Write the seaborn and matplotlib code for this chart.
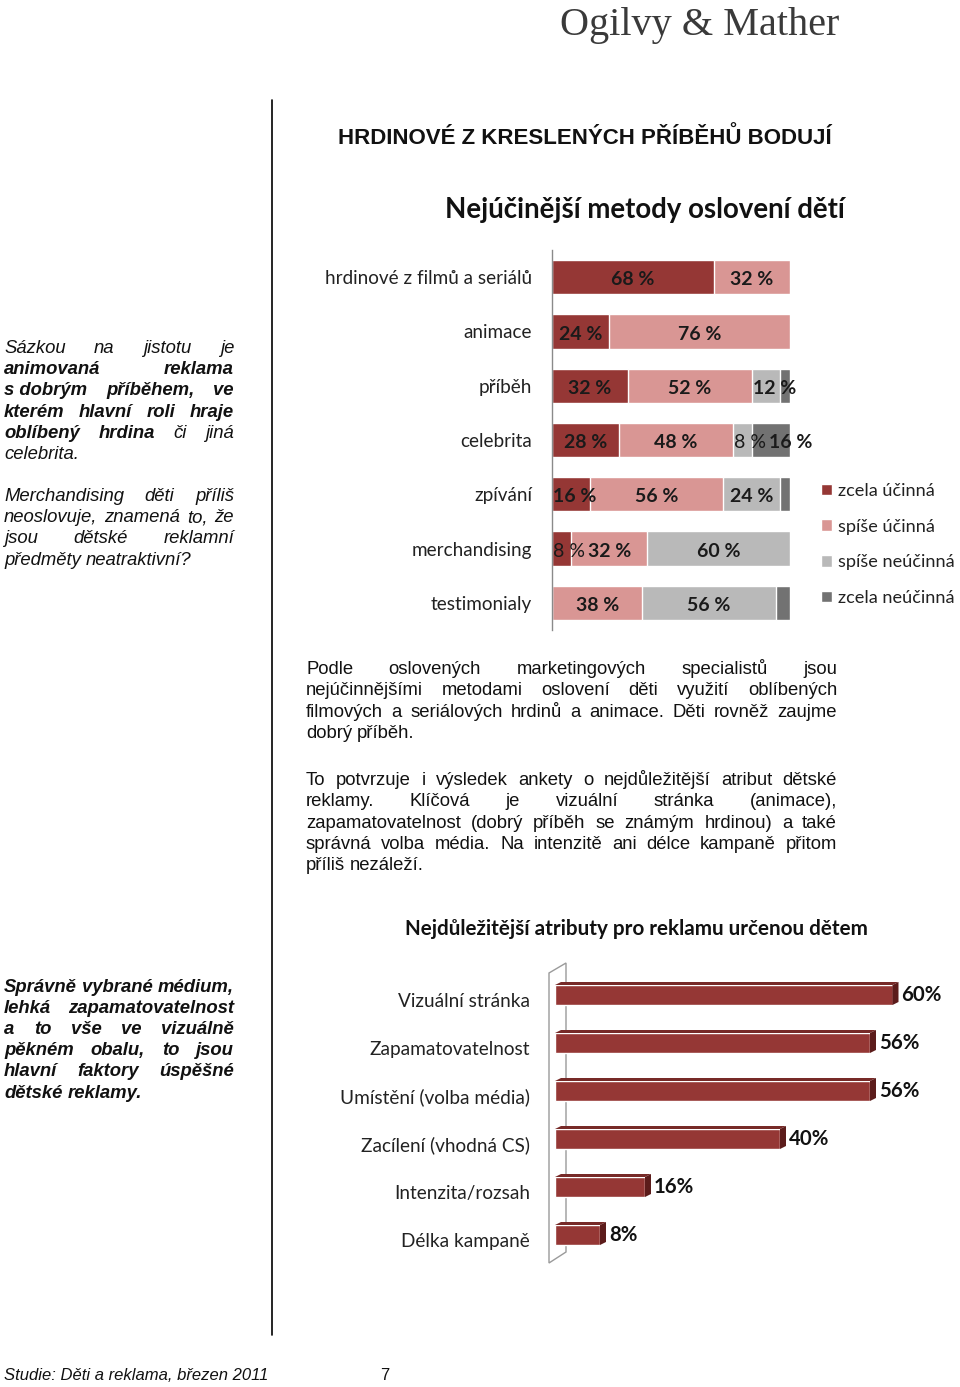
import numpy as np
import pandas as pd
import seaborn as sns
import matplotlib.pyplot as plt
from matplotlib.patches import Polygon
from matplotlib.lines import Line2D
from matplotlib.transforms import ScaledTranslation

# Data: most effective ways to reach children
methods = ['hrdinové z filmů a seriálů', 'animace', 'příběh', 'celebrita',
           'zpívání', 'merchandising', 'testimonialy']
zcela_ucinna = [68, 24, 32, 28, 16, 8, 0]
spise_ucinna = [32, 76, 52, 48, 56, 32, 38]
spise_neucinna = [0, 0, 12, 8, 24, 60, 56]
zcela_neucinna = [0, 0, 4, 16, 4, 0, 6]
answer_names = ['zcela účinná', 'spíše účinná', 'spíše neúčinná', 'zcela neúčinná']
answer_colors = ['#953735', '#d99694', '#b9b9b9', '#727272']

# Data: most important attributes of ads for children
attributes = ['Vizuální stránka', 'Zapamatovatelnost', 'Umístění (volba média)',
              'Zacílení (vhodná CS)', 'Intenzita/rozsah', 'Délka kampaně']
attribute_share = [60, 56, 56, 40, 16, 8]

sns.set_style('white')
plt.rcParams['font.family'] = ['Lato', 'DejaVu Sans']

W, H = 960, 1387
fig = plt.figure(figsize=(W / 100, H / 100), dpi=100)
renderer = fig.canvas.get_renderer()


def fx(x):
    return x / W


def fy(y):
    return 1 - y / H


def text_width(s, **kw):
    t = fig.text(0, 0, s, **kw)
    w = t.get_window_extent(renderer).width
    t.remove()
    return w


# Logo, titles, divider
fig.text(fx(700), fy(25), 'Ogilvy & Mather', ha='center', va='center', fontsize=29,
         family='Liberation Serif', color='#3a3a3a')
fig.text(fx(585), fy(138), 'HRDINOVÉ Z KRESLENÝCH PŘÍBĚHŮ BODUJÍ', ha='center', va='center',
         fontsize=16, fontweight='bold', family='Liberation Sans', color='#111111')
fig.text(fx(645), fy(210), 'Nejúčinější metody oslovení dětí', ha='center', va='center',
         fontsize=19.9, fontweight='bold', color='#111111')
fig.text(fx(636), fy(929), 'Nejdůležitější atributy pro reklamu určenou dětem', ha='center',
         va='center', fontsize=14.9, fontweight='bold', color='#111111')
fig.add_artist(Line2D([fx(272), fx(272)], [fy(100), fy(1335)], color='black', lw=1.2,
                      transform=fig.transFigure))

# Stacked bar chart
df = pd.DataFrame({answer_names[0]: zcela_ucinna, answer_names[1]: spise_ucinna,
                   answer_names[2]: spise_neucinna, answer_names[3]: zcela_neucinna},
                  index=methods)
cum = df.cumsum(axis=1)

ax1 = fig.add_axes([fx(552), fy(630), fx(790) - fx(552), fy(250) - fy(630)])
for col, color in zip(answer_names[::-1], answer_colors[::-1]):
    sns.barplot(x=cum[col].values, y=methods, orient='h', color=color, width=0.63,
                label=col, ax=ax1, saturation=1)
ax1.set_xlim(0, 100)
ax1.set_xticks([])
ax1.set_xlabel('')
ax1.set_ylabel('')
ax1.tick_params(axis='y', length=0, pad=14.4, labelsize=13.6, labelcolor='#222222')
for s in ['top', 'right', 'bottom']:
    ax1.spines[s].set_visible(False)
ax1.spines['left'].set_color('#8a8a8a')
ax1.spines['left'].set_linewidth(1)

# value labels: centred, kept inside the left edge and clear of the previous label
unit_px = 238 / 100
left = cum - df
for i, m in enumerate(methods):
    prev_right = -1e9
    for col in answer_names:
        v = df.loc[m, col]
        if v < 8:
            continue
        weight = 'bold' if v >= 10 else 'normal'
        label = f'{v} %'
        half = text_width(label, fontsize=14, fontweight=weight) / 2 / unit_px
        x = left.loc[m, col] + v / 2
        x = max(x, left.loc[m, col] + 0.5 + half)
        x = max(x, prev_right + 3 / unit_px + half)
        prev_right = x + half
        ax1.text(x, i + 0.05, label, ha='center', va='center', fontsize=14,
                 fontweight=weight, color='#1a1a1a')

handles, labels = ax1.get_legend_handles_labels()
if ax1.get_legend():
    ax1.get_legend().remove()
order = [labels.index(n) for n in answer_names]
fig.legend([handles[k] for k in order], answer_names, loc='upper left',
           bbox_to_anchor=(fx(821), fy(483)), frameon=False, prop={'size': 13.1},
           handlelength=0.62, handleheight=0.62, handletextpad=0.3, labelspacing=1.08,
           borderaxespad=0, borderpad=0, labelcolor='#222222')

# 3D-looking horizontal bar chart
ax2 = fig.add_axes([fx(555), fy(1259), fx(960) - fx(555), fy(971) - fy(1259)])
ax2.patch.set_alpha(0)
sns.barplot(x=attribute_share, y=attributes, orient='h', color='#953735', width=20 / 48,
            ax=ax2, saturation=1)
ax2.set_xlim(0, 72)
ax2.set_xticks([])
ax2.set_xlabel('')
ax2.set_ylabel('')
for s in ['top', 'right', 'bottom', 'left']:
    ax2.spines[s].set_visible(False)
ax2.tick_params(axis='y', length=0, pad=18, labelsize=13.7, labelcolor='#222222')
for lbl in ax2.get_yticklabels():
    lbl.set_transform(lbl.get_transform() + ScaledTranslation(0, -5 / 100, fig.dpi_scale_trans))

px_x = 72 / 405
px_y = 6 / 288
dx, dy = 6 * px_x, 3 * px_y
for p, v in zip(list(ax2.patches), attribute_share):
    x0, y0, w, h = p.get_x(), p.get_y(), p.get_width(), p.get_height()
    ax2.add_patch(Polygon([(x0, y0), (x0 + w, y0), (x0 + w + dx, y0 - dy), (x0 + dx, y0 - dy)],
                          closed=True, facecolor='#772a28', edgecolor='none', zorder=2))
    ax2.add_patch(Polygon([(x0 + w, y0), (x0 + w + dx, y0 - dy), (x0 + w + dx, y0 + h - dy),
                           (x0 + w, y0 + h)],
                          closed=True, facecolor='#5c1c1b', edgecolor='none', zorder=2))
    ax2.text(x0 + w + dx + 3 * px_x, y0 + h / 2, f'{v}%', ha='left', va='center',
             fontsize=14.7, fontweight='bold', color='#111111')

wall = [(549, 973), (566, 963), (566, 1252), (549, 1263)]
ax2.add_patch(Polygon([(fx(a), fy(b)) for a, b in wall], closed=True, fill=False,
                      edgecolor='#9a9a9a', lw=1, transform=fig.transFigure, clip_on=False,
                      zorder=0.5))


# Justified paragraphs (words starting with * are bold, \u00a0 keeps words together)
def paragraph(lines, x0, x1, y0, step, size=13.3, italic=False, all_bold=False):
    base = dict(fontsize=size, family='Liberation Sans',
                fontstyle='italic' if italic else 'normal', color='#111111')
    space = text_width('a a', **base) - text_width('aa', **base)
    for k, line in enumerate(lines):
        words = []
        for w in line.split(' '):
            bold = all_bold or w.startswith('*')
            words.append((w.lstrip('*'), 'bold' if bold else 'normal'))
        widths = [text_width(w, fontweight=b, **base) for w, b in words]
        last = k == len(lines) - 1
        if last or len(words) == 1:
            gap = space
        else:
            gap = max((x1 - x0 - sum(widths)) / (len(words) - 1), space * 0.6)
        x = x0
        for (w, b), wd in zip(words, widths):
            fig.text(fx(x), fy(y0 + k * step), w, ha='left', va='baseline',
                     fontweight=b, **base)
            x += wd + gap


paragraph(['Sázkou na jistotu je',
           '*animovaná *reklama',
           '*s\u00a0dobrým *příběhem, *ve',
           '*kterém *hlavní *roli *hraje',
           '*oblíbený *hrdina či jiná',
           'celebrita.'], 4, 234, 353, 21.2, italic=True)
paragraph(['Merchandising děti příliš',
           'neoslovuje, znamená to, že',
           'jsou dětské reklamní',
           'předměty neatraktivní?'], 4, 234, 501, 21.2, italic=True)
paragraph(['Podle oslovených marketingových specialistů jsou',
           'nejúčinnějšími metodami oslovení děti využití oblíbených',
           'filmových a seriálových hrdinů a animace. Děti rovněž zaujme',
           'dobrý příběh.'], 306, 837, 674, 21.3)
paragraph(['To potvrzuje i výsledek ankety o nejdůležitější atribut dětské',
           'reklamy. Klíčová je vizuální stránka (animace),',
           'zapamatovatelnost (dobrý příběh se známým hrdinou) a také',
           'správná volba média. Na intenzitě ani délce kampaně přitom',
           'příliš nezáleží.'], 306, 837, 785, 21.3)
paragraph(['Správně vybrané médium,',
           'lehká zapamatovatelnost',
           'a to vše ve vizuálně',
           'pěkném obalu, to jsou',
           'hlavní faktory úspěšné',
           'dětské reklamy.'], 4, 234, 992, 21.1, italic=True, all_bold=True)

fig.text(fx(4), fy(1380), 'Studie: Děti a reklama, březen 2011', ha='left', va='baseline',
         fontsize=12, family='Liberation Sans', fontstyle='italic', color='#111111')
fig.text(fx(380), fy(1380), '7', ha='left', va='baseline', fontsize=12,
         family='Liberation Sans', color='#111111')

fig.savefig('out.png', dpi=100)
